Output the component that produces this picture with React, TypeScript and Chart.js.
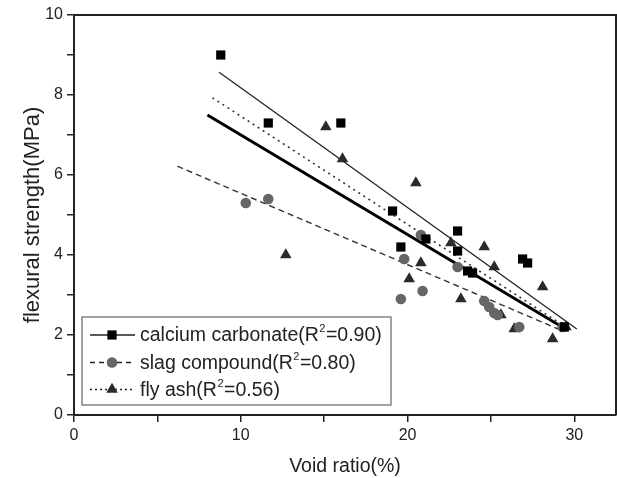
import React, { useEffect, useRef } from "react";
import { Chart, registerables } from "chart.js";

Chart.register(...registerables);

// ---- data (void ratio %, flexural strength MPa) ----
const calciumCarbonate: [number, number][] = [
  [8.8, 9.0], [11.65, 7.3], [16.0, 7.3], [19.1, 5.1], [19.6, 4.2], [21.1, 4.4],
  [23.0, 4.6], [23.0, 4.1], [23.6, 3.6], [23.9, 3.55], [26.9, 3.9], [27.2, 3.8], [29.4, 2.2],
];
const slagCompound: [number, number][] = [
  [10.3, 5.3], [11.65, 5.4], [19.6, 2.9], [19.8, 3.9], [20.8, 4.5], [20.9, 3.1],
  [23.0, 3.7], [24.6, 2.85], [24.9, 2.7], [25.2, 2.55], [25.4, 2.5], [26.7, 2.2], [29.3, 2.2],
];
const flyAsh: [number, number][] = [
  [12.7, 4.0], [15.1, 7.2], [16.1, 6.4], [20.1, 3.4], [20.5, 5.8], [20.8, 3.8],
  [22.6, 4.3], [23.2, 2.9], [24.6, 4.2], [25.2, 3.7], [25.6, 2.5], [26.4, 2.15],
  [28.1, 3.2], [28.7, 1.9], [29.5, 2.2],
];
// fitted lines (end points)
const fitCalcium: [number, number][] = [[8.7, 8.57], [30.15, 2.15]];
const fitSlag: [number, number][] = [[6.2, 6.22], [29.2, 2.12]];
const fitFly: [number, number][] = [[8.3, 7.93], [29.3, 2.25]];
const fitAll: [number, number][] = [[8.0, 7.5], [29.6, 2.12]];

const legendLabels = [
  ["calcium carbonate(R", "2", "=0.90)"],
  ["slag compound(R", "2", "=0.80)"],
  ["fly ash(R", "2", "=0.56)"],
];
const xTitle = "Void ratio(%)";
const yTitle = "flexural strength(MPa)";

const FONT = "'Liberation Sans', Arial, sans-serif";
const TXT = "#222";

const toPts = (a: [number, number][]) => a.map(([x, y]) => ({ x, y }));

function drawMarker(ctx: CanvasRenderingContext2D, style: string, x: number, y: number, r: number) {
  ctx.beginPath();
  if (style === "rect") {
    const s = Math.SQRT1_2 * r;
    ctx.rect(x - s, y - s, 2 * s, 2 * s);
  } else if (style === "circle") {
    ctx.arc(x, y, r, 0, Math.PI * 2);
  } else {
    ctx.moveTo(x, y - r);
    ctx.lineTo(x + Math.sin((2 * Math.PI) / 3) * r, y - Math.cos((2 * Math.PI) / 3) * r);
    ctx.lineTo(x + Math.sin((4 * Math.PI) / 3) * r, y - Math.cos((4 * Math.PI) / 3) * r);
    ctx.closePath();
  }
  ctx.fill();
}

const legendPlugin = {
  id: "customLegend",
  afterDraw(chart: any) {
    const ctx = chart.ctx as CanvasRenderingContext2D;
    const ca = chart.chartArea;
    ctx.save();
    // frame top & right
    ctx.strokeStyle = "#222";
    ctx.lineWidth = 2;
    ctx.beginPath();
    ctx.moveTo(ca.left, ca.top);
    ctx.lineTo(ca.right, ca.top);
    ctx.lineTo(ca.right, ca.bottom);
    ctx.stroke();

    // legend box
    const bx = 82;
    const by = 317;
    const bw = 309;
    const bh = 88;
    ctx.fillStyle = "#fff";
    ctx.fillRect(bx, by, bw, bh);
    ctx.strokeStyle = "#666";
    ctx.lineWidth = 1.2;
    ctx.strokeRect(bx, by, bw, bh);

    const styles = [
      { dash: [], color: "#000", style: "rect", r: 6.5, lw: 1.3 },
      { dash: [5, 4], color: "#666", style: "circle", r: 5.3, lw: 1.3 },
      { dash: [2, 3], color: "#2a2a2a", style: "triangle", r: 6.7, lw: 1.3 },
    ];
    const rowY = [by + 18, by + 45.5, by + 72.5];
    for (let i = 0; i < 3; i++) {
      const y = rowY[i];
      const s = styles[i];
      ctx.setLineDash(s.dash);
      ctx.strokeStyle = "#222";
      ctx.lineWidth = s.lw;
      ctx.beginPath();
      ctx.moveTo(bx + 8, y);
      ctx.lineTo(bx + 53, y);
      ctx.stroke();
      ctx.setLineDash([]);
      ctx.fillStyle = s.color;
      drawMarker(ctx, s.style, bx + 30, y, s.r);
      const [a, sup, b] = legendLabels[i];
      ctx.fillStyle = TXT;
      ctx.textBaseline = "middle";
      ctx.textAlign = "left";
      ctx.font = `19.5px ${FONT}`;
      let tx = bx + 58;
      ctx.fillText(a, tx, y + 1);
      tx += ctx.measureText(a).width;
      ctx.font = `11px ${FONT}`;
      ctx.fillText(sup, tx + 0.5, y - 6);
      tx += ctx.measureText(sup).width + 1;
      ctx.font = `19.5px ${FONT}`;
      ctx.fillText(b, tx, y + 1);
    }
    ctx.restore();
  },
};

export default function App() {
  const ref = useRef<HTMLCanvasElement | null>(null);
  useEffect(() => {
    if (!ref.current) return;
    const lineDs = (data: [number, number][], dash: number[], width: number, color: string) => ({
      type: "line" as const,
      data: toPts(data),
      borderColor: color,
      borderWidth: width,
      borderDash: dash,
      pointRadius: 0,
      showLine: true,
      fill: false,
      order: 1,
    });
    const chart = new Chart(ref.current, {
      type: "scatter",
      data: {
        datasets: [
          {
            label: "calcium carbonate",
            data: toPts(calciumCarbonate),
            pointStyle: "rect",
            pointRadius: 6.5,
            backgroundColor: "#000",
            borderColor: "#000",
            borderWidth: 0,
            order: 0,
          },
          {
            label: "slag compound",
            data: toPts(slagCompound),
            pointStyle: "circle",
            pointRadius: 5.3,
            backgroundColor: "#666",
            borderColor: "#666",
            borderWidth: 0,
            order: 0,
          },
          {
            label: "fly ash",
            data: toPts(flyAsh),
            pointStyle: "triangle",
            pointRadius: 6.7,
            backgroundColor: "#2a2a2a",
            borderColor: "#2a2a2a",
            borderWidth: 0,
            order: 0,
          },
          lineDs(fitCalcium, [], 1.3, "#222"),
          lineDs(fitSlag, [6, 4], 1.4, "#333"),
          lineDs(fitFly, [2, 4], 1.6, "#333"),
          lineDs(fitAll, [], 3, "#000"),
        ] as any,
      },
      options: {
        animation: false,
        responsive: false,
        devicePixelRatio: 1,
        layout: { autoPadding: false, padding: { top: 15, right: 1, left: 0, bottom: 0 } },
        plugins: { legend: { display: false }, tooltip: { enabled: false } },
        scales: {
          x: {
            type: "linear",
            min: 0,
            max: 32.5,
            afterFit: (s: any) => { s.height = 63; s.paddingRight = 0; s.paddingLeft = 0; },
            border: { display: true, color: "#222", width: 2 },
            grid: { display: true, drawOnChartArea: false, drawTicks: true, tickLength: 7, color: "#222", lineWidth: 1.5 },
            ticks: {
              stepSize: 5,
              includeBounds: false,
              autoSkip: false,
              maxRotation: 0,
              padding: 4,
              color: TXT,
              font: { family: FONT, size: 16 },
              callback: (v: any) => (Number(v) % 10 === 0 ? String(v) : ""),
            },
            title: {
              display: true,
              text: xTitle,
              color: TXT,
              font: { family: FONT, size: 19.5 },
              padding: { top: 0, bottom: 0 },
            },
          },
          y: {
            type: "linear",
            min: 0,
            max: 10,
            afterFit: (s: any) => { s.width = 74; },
            border: { display: true, color: "#222", width: 2 },
            grid: { display: true, drawOnChartArea: false, drawTicks: true, tickLength: 7, color: "#222", lineWidth: 1.5 },
            ticks: {
              stepSize: 1,
              includeBounds: false,
              autoSkip: false,
              padding: 4,
              color: TXT,
              font: { family: FONT, size: 16 },
              callback: (v: any) => (Number(v) % 2 === 0 ? String(v) : ""),
            },
            title: {
              display: true,
              text: yTitle,
              color: TXT,
              font: { family: FONT, size: 22 },
              padding: { top: 20, bottom: 0 },
            },
          },
        },
      } as any,
      plugins: [legendPlugin],
    });
    return () => chart.destroy();
  }, []);
  return (
    <div style={{ position: "absolute", left: 0, top: 0, width: 617, height: 478, background: "#fff" }}>
      <canvas ref={ref} width={617} height={478} />
    </div>
  );
}
